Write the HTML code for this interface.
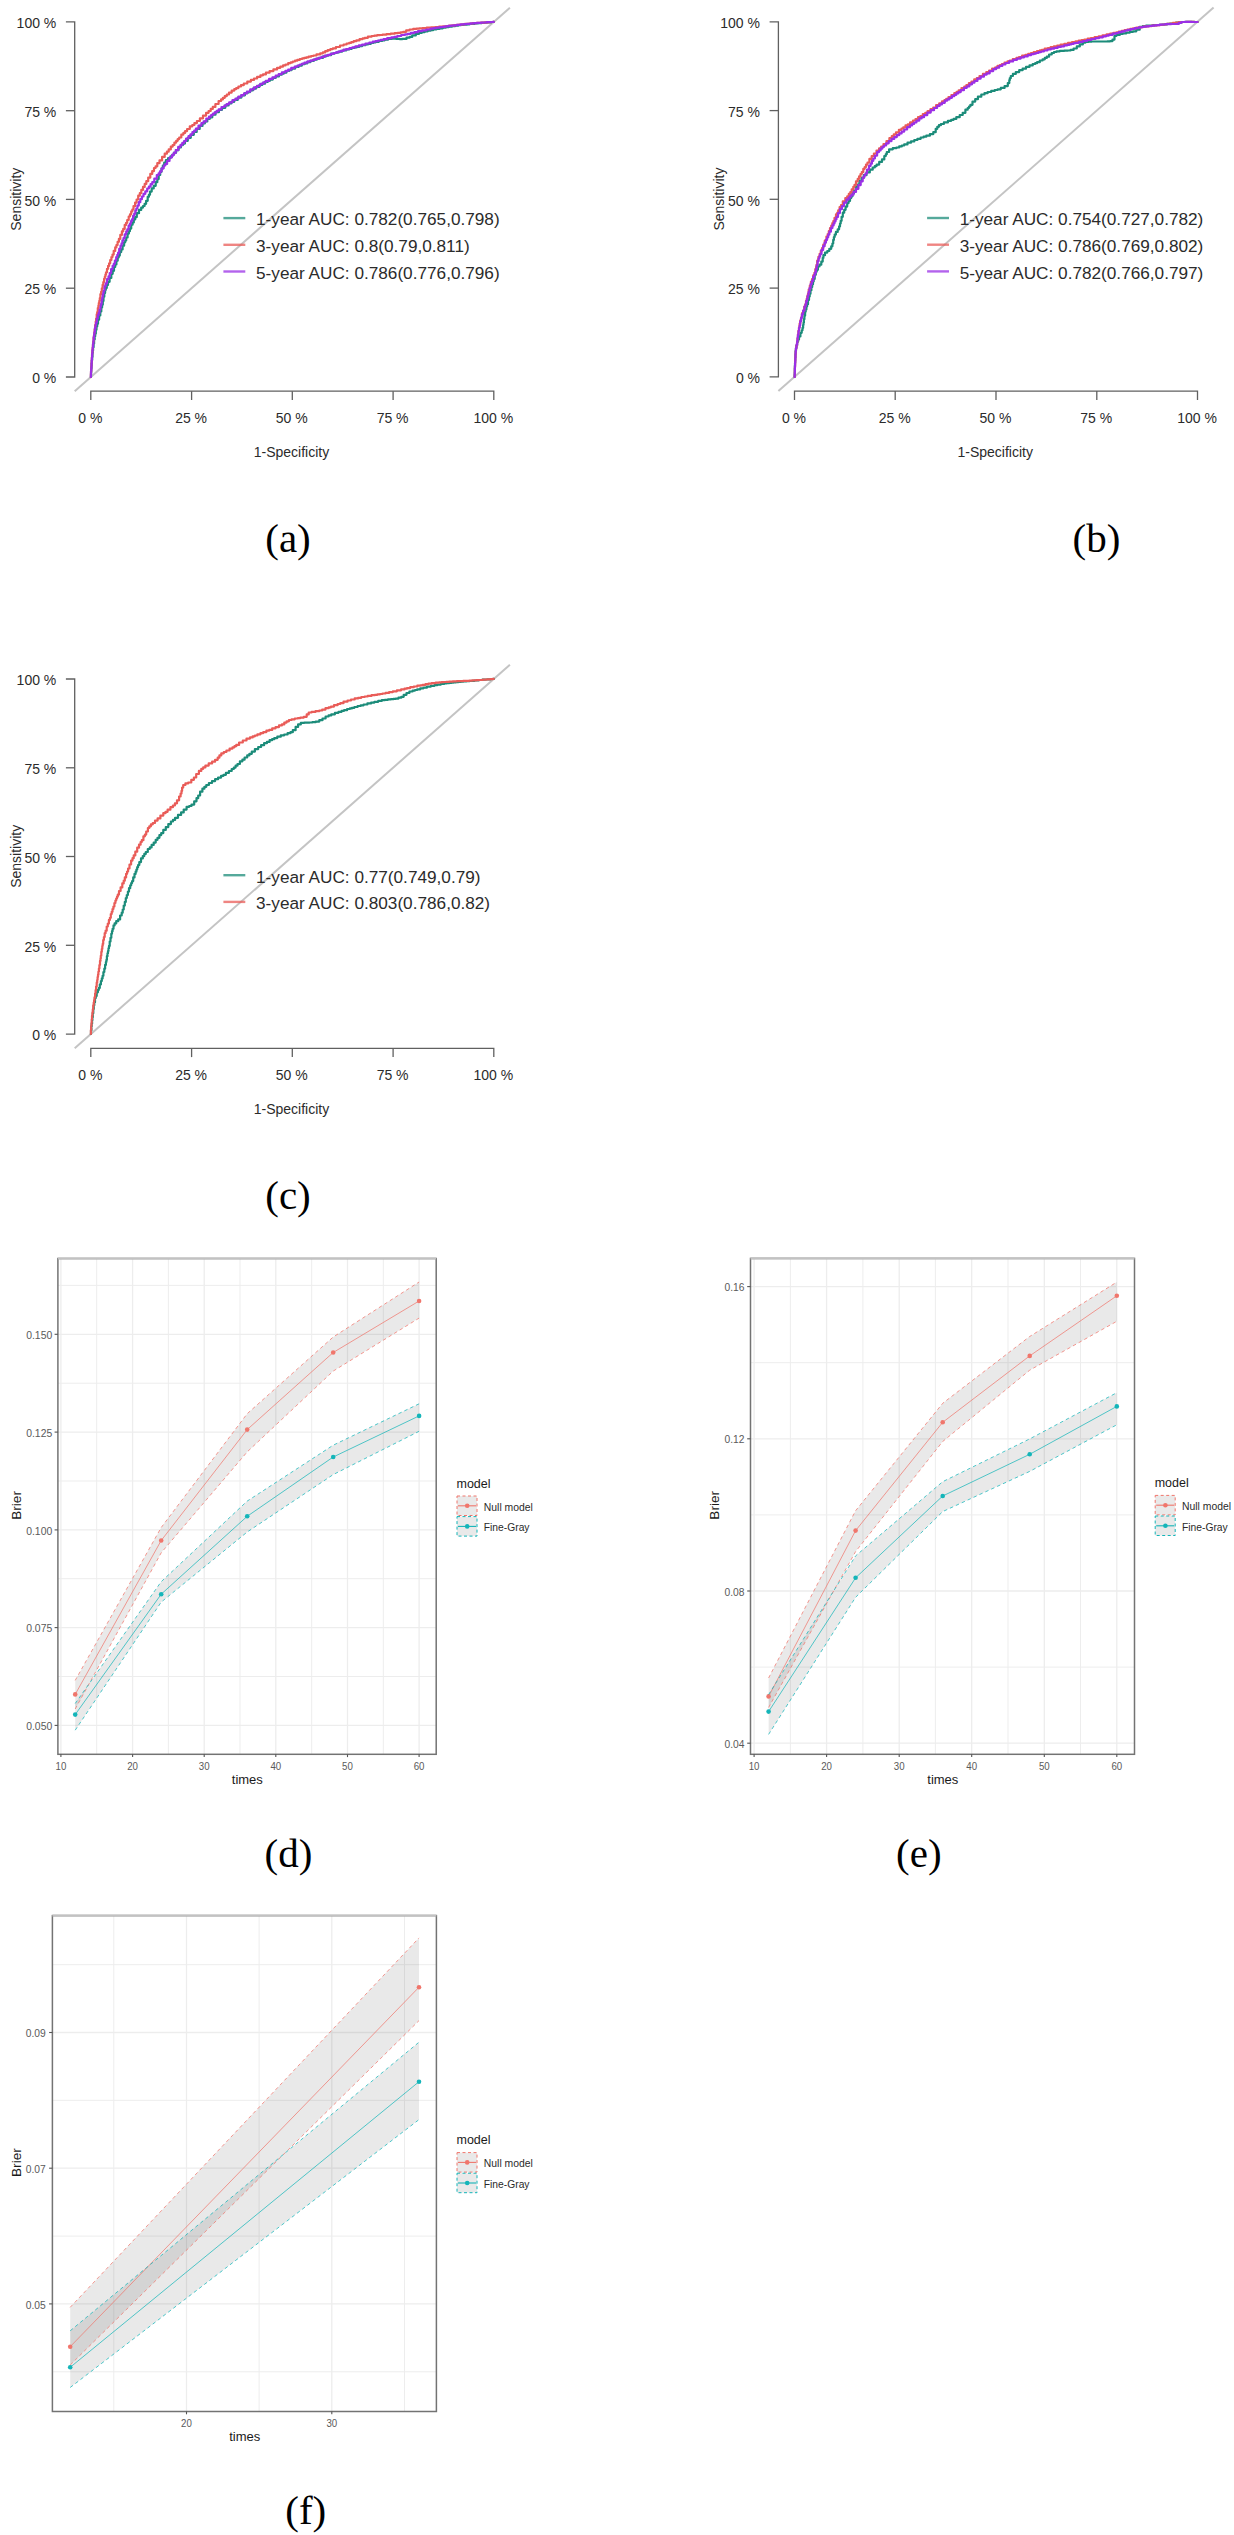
<!DOCTYPE html>
<html><head><meta charset="utf-8"><title>ROC and Brier figure</title>
<style>html,body{margin:0;padding:0;background:#fff;overflow:hidden;width:1234px;height:2535px;}svg{display:block;}</style>
</head><body>
<svg width="1234" height="2535" viewBox="0 0 1234 2535">
<rect width="1234" height="2535" fill="#fff"/>
<line x1="74.7" y1="391.2" x2="509.9" y2="7.7" stroke="#c4c4c4" stroke-width="2"/>
<path d="M90.8,377H91V372.9H91.1H91.2V369H91.4H91.5V366H91.6H91.7V363.3H91.8H91.9V360.1H92.1H92.2V357.1H92.3H92.5V353.1H92.7H92.8V350.4H93H93.1V347.2H93.3H93.6V343.8H93.8H94.1V339.6H94.4H94.7V336.3H94.9H95.2V333.7H95.4H95.8V329.8H96.1H96.5V326.4H96.9H97.2V323.8H97.5H98V319.7H98.5H99.1V315.4H99.7H100.3V311.5H100.8H101.3V307.4H101.8H102.1V304.7H102.4H102.8V300.9H103.1H103.5V296.7H103.9H104.3V293.1H104.7H105.1V290H105.5H105.8V287.9H106.2H106.8V285H107.3H108V281.8H108.7H109.6V277.9H110.5H111.3V273.8H112.2H112.7V270.8H113.3H114V266.9H114.7H115.2V264.4H115.6H116.4V260.7H117.1H117.7V257.5H118.3H118.7V255.6H119.1H119.8V252.1H120.6H121.2V249.4H121.8H122.6V245.7H123.4H124.1V242.3H124.9H125.2V240.5H125.6H126.2V237.5H126.8H127.6V233.6H128.4H128.9V231.2H129.4H129.9V228.6H130.4H131.2V224.7H132.1H132.6V222.5H133.1H133.8V219.4H134.6H135.2V217.1H135.7H136.8V213.2H137.9H139V209.9H140.1H141.2V207.6H142.3H143V206H143.8H144.6V203.8H145.4H146.1V200.8H146.9H147.7V196.8H148.5H148.9V194.7H149.3H150V191.6H150.7H151.7V188.4H152.7H153.7V185.8H154.7H155.7V182.2H156.6H157.3V179.1H157.9H158.7V175H159.6H160.2V171.8H160.9H161.5V168.6H162.2H162.8V165.7H163.4H164.2V162.6H165H165.9V160.2H166.8H168.1V158.2H169.5H170.5V156.3H171.5H172.4V154.5H173.2H174.1V152.7H174.9H176.1V150.1H177.3H178.6V147.5H179.8H180.9V145.2H182H182.8V143.6H183.6H184.9V140.8H186.3H187.8V137.8H189.3H190.8V134.8H192.3H193.8V131.9H195.2H196.7V128.9H198.2H199.7V125.9H201.3H202.5V123.5H203.7H204.8V121.5H205.9H207.3V119H208.7H209.7V117.3H210.7H212.3V114.7H213.9H215.5V112.2H217.2H218.9V109.8H220.6H222V107.8H223.5H225.3V105.4H227.1H228.6V103.5H230H231.3V101.8H232.7H234.2V99.9H235.7H237.7V97.6H239.6H241.4V95.3H243.2H244.9V93.2H246.6H247.6V92.1H248.5H250.1V90.3H251.6H253V88.7H254.4H255.9V87H257.5H259.3V85H261.1H262.2V83.7H263.4H265V81.9H266.7H267.7V80.8H268.8H269.9V79.6H271H272.8V77.8H274.6H275.8V76.5H277.1H278.9V74.7H280.7H281.7V73.7H282.7H283.7V72.6H284.8H286.5V71H288.2H289.1V70.1H290.1H291.6V68.6H293.2H295.2V66.9H297.1H298.6V65.6H300.2H301.9V64.2H303.6H304.6V63.4H305.5H307.2V62.1H308.9H310.5V60.9H312.2H313.8V59.7H315.4H316.8V58.7H318.2H319.6V57.8H321H323.1V56.3H325.2H326.2V55.7H327.2H328.1V55.1H329.1H331.2V53.7H333.3H334.5V53H335.7H336.8V52.3H337.9H339.1V51.6H340.3H342.2V50.5H344.1H346.2V49.3H348.3H349.3V48.8H350.3H351.8V48H353.3H354.4V47.4H355.5H356.7V46.8H358H359.3V46.1H360.5H362.2V45.2H364H365.4V44.5H366.8H368V43.9H369.1H370.7V43H372.3H373.3V42.5H374.3H375.4V41.9H376.5H378.7V40.9H380.8H382.1V40.3H383.3H384.7V39.7H386.1H388V39H389.9H391.9V38.7H394H396.1V38.9H398.2H399.5V39.1H400.7H402.5V38.9H404.3H406.5V37.7H408.6H409.6V36.9H410.6H412.2V35.4H413.9H415.8V33.8H417.7H419.1V32.9H420.4H421.7V32.2H422.9H424.6V31.3H426.3H427.8V30.7H429.4H430.6V30.1H431.7H433.3V29.5H434.9H436.3V28.9H437.8H439.5V28.3H441.2H442.8V27.7H444.4H445.8V27.2H447.1H448.6V26.7H450H452V26.1H454H455.3V25.7H456.6H458.3V25.2H460H461V25H462H463.9V24.6H465.9H467.3V24.3H468.7H469.7V24H470.8H472.1V23.8H473.5H474.8V23.5H476.1H478.2V23.1H480.4H481.9V22.9H483.3H484.6V22.6H486H487.4V22.4H488.9H491.1V22H493.2H493.5V21.9H493.8" fill="none" stroke="#1c8c7a" stroke-width="2.2" stroke-linejoin="round" stroke-linecap="round"/>
<path d="M90.8,377H90.9V374.2H91H91V371.8H91.1H91.2V368.2H91.3H91.3V366H91.4H91.5V362.7H91.6H91.7V359.8H91.7H91.8V357.6H91.9H92V354.4H92.1H92.2V352.3H92.3H92.4V349.2H92.5H92.7V347.1H92.8H92.9V344.8H93H93.1V341.8H93.3H93.5V337.8H93.8H93.9V335.5H94H94.2V332.9H94.4H94.6V329.4H94.8H95.1V325.1H95.4H95.7V321.6H95.9H96.1V318.7H96.4H96.7V314.3H97.1H97.2V312.2H97.4H97.8V308.1H98.1H98.4V305.5H98.6H98.8V303.1H99H99.3V300.9H99.5H99.8V298.2H100H100.4V294.2H100.9H101.1V291.8H101.4H101.8V288.4H102.2H102.6V284.9H103H103.3V282.1H103.7H104.1V278.8H104.5H104.8V276.8H105.1H105.4V274.7H105.7H106V272.3H106.4H107V268.8H107.6H108.1V265.9H108.6H109.1V263.3H109.6H110.2V260H110.8H111.4V257.1H112H112.5V254.6H113H113.7V250.9H114.5H115.2V247.4H115.9H116.4V245H116.9H117.6V241.8H118.2H118.9V238.8H119.5H120.3V234.9H121.2H121.9V231.4H122.7H123.2V228.9H123.8H124.7V224.9H125.6H126.1V222.8H126.6H127.2V220H127.8H128.7V216.5H129.5H130V214.3H130.5H131.2V211.4H131.9H132.3V209.5H132.8H133.5V206.2H134.3H135.1V202.6H135.9H136.6V199.5H137.3H138.2V195.7H139.1H139.8V193.2H140.4H141.3V189.9H142.2H143V186.9H143.8H144.7V183.9H145.5H146.3V181.2H147.1H148.2V177.6H149.2H150.3V173.9H151.4H152.2V171.1H153H154V168H155H155.6V166.3H156.2H157.3V163.2H158.4H159.5V160.4H160.7H162.1V156.9H163.5H164.7V153.7H166H166.9V151.7H167.7H168.7V149.4H169.6H170.8V146.6H172H172.7V145H173.3H174.4V142.6H175.4H176.2V140.8H177H177.7V139.1H178.5H179.2V137.5H179.9H181.3V134.6H182.6H183.4V132.9H184.2H185.1V131.1H186H187.1V129H188.2H189.8V126.3H191.4H192.3V125H193.1H194.4V123.1H195.6H196.9V121H198.3H199.9V118.3H201.5H203V115.6H204.6H206.1V112.8H207.6H208.6V111H209.6H210.7V108.9H211.8H212.8V106.9H213.9H215.4V104H217H218.6V101H220.2H221.1V99.4H222H222.9V97.8H223.8H224.8V96.1H225.8H226.8V94.5H227.8H229V92.6H230.3H231.7V90.6H233.2H234.3V89.1H235.4H236.2V88.1H237.1H238.4V86.5H239.7H241V85.1H242.3H243.8V83.5H245.3H247.3V81.6H249.2H250.9V79.9H252.6H254V78.5H255.5H257.1V76.9H258.7H260.4V75.3H262H263V74.4H264H265.9V72.7H267.8H269.6V71.1H271.4H273.4V69.4H275.3H277.1V67.8H278.9H280.3V66.6H281.7H283.1V65.4H284.4H285.5V64.5H286.5H288.2V63.1H289.8H290.8V62.3H291.8H292.8V61.5H293.8H295V60.7H296.2H297.3V59.9H298.5H299.8V59H301.2H302.2V58.4H303.2H304.2V57.9H305.2H306.3V57.3H307.5H308.6V56.7H309.6H311.1V56H312.5H313.5V55.5H314.5H316.5V54.4H318.5H320.2V53.3H321.8H322.9V52.4H324H325.2V51.2H326.4H327.7V50.1H329.1H330.4V49.1H331.8H332.9V48.4H334H335.9V47H337.9H340V45.5H342.1H343.6V44.5H345.1H346.6V43.5H348.1H349.2V42.8H350.2H351.3V42.1H352.4H353.7V41.2H355.1H356.4V40.3H357.6H359.6V39.1H361.5H362.7V38.4H363.8H364.8V37.8H365.8H367.9V36.7H370H371.6V36H373.2H374.4V35.6H375.6H377.2V35.2H378.9H379.9V35H381H382.6V34.7H384.3H386.5V34.1H388.7H390.8V33.7H392.8H394.7V33.2H396.5H397.8V32.9H399.2H400.6V32.4H402H403.2V31.8H404.4H406.2V30.3H408H409.6V29.5H411.2H413.2V28.9H415.1H416.5V28.7H418H419.2V28.4H420.5H422.5V28.1H424.5H426.7V27.7H429H431V27.4H433.1H435.1V27H437.1H439.1V26.7H441.1H443V26.3H444.9H446.2V26H447.5H449.1V25.7H450.8H452.2V25.3H453.6H454.7V25.1H455.7H456.7V24.9H457.8H459.1V24.6H460.4H461.8V24.3H463.1H464.9V23.9H466.8H469V23.5H471.2H472.7V23.2H474.3H476.4V22.9H478.6H480.8V22.6H483.1H485.2V22.3H487.4H488.9V22.1H490.3H491.6V22H492.9H493.3V21.9H493.8" fill="none" stroke="#e95c58" stroke-width="2.2" stroke-linejoin="round" stroke-linecap="round"/>
<path d="M90.8,377H90.9V374.7H90.9H91V371H91.2H91.3V367.4H91.4H91.5V363H91.6H91.7V360.3H91.8H91.9V357.7H92H92.1V353.9H92.3H92.4V350.3H92.6H92.7V347.5H92.8H93V343.8H93.2H93.4V340.8H93.5H93.7V336.9H94H94.1V334.6H94.3H94.4V332.1H94.6H94.9V327.9H95.3H95.5V325.1H95.8H96.1V322.5H96.3H96.8V318.6H97.3H97.8V315.2H98.3H98.7V312.9H99H99.5V309.6H99.9H100.4V306.1H100.8H101.1V303.7H101.3H101.7V300.2H102H102.2V297.9H102.4H102.7V295.1H103H103.2V292.9H103.4H103.7V290.5H104H104.6V286.2H105.2H105.7V283.4H106.2H107V279.2H107.9H108.5V276.4H109.1H109.7V273.1H110.4H111.1V269.2H111.9H112.6V265.8H113.3H113.8V263.7H114.2H114.9V260.5H115.5H116.2V257.1H116.9H117.3V254.8H117.8H118.1V252.7H118.5H119.2V248.8H120H120.5V245.7H121H121.5V243.4H121.9H122.4V240.4H123H123.5V238.1H123.9H124.7V234.4H125.5H126.2V231.4H126.8H127.3V229.4H127.8H128.6V225.7H129.5H129.9V223.7H130.4H130.9V221.2H131.5H131.9V219.3H132.3H133.1V215.8H133.8H134.2V213.7H134.7H135.3V210.6H135.9H136.3V208.5H136.8H137.4V205.6H138H138.8V202.2H139.6H140.3V199.2H141.1H141.9V196.5H142.7H143.5V193.8H144.4H145.3V191.3H146.2H147.2V188.5H148.2H148.9V186.7H149.6H150.6V184.2H151.5H152.3V182.1H153.1H154.3V178.7H155.5H156.8V175.1H158H158.6V173.4H159.2H159.9V171.4H160.6H161.6V168.3H162.7H163.7V165.5H164.7H165.3V163.9H165.9H167.1V160.9H168.2H169.5V157.5H170.9H171.9V155.1H172.8H173.7V152.9H174.6H175.7V150.2H176.8H178.2V146.9H179.6H180.5V144.9H181.4H182.3V142.9H183.2H184.1V141.1H184.9H186.1V138.5H187.4H188.5V136.2H189.6H190.5V134.3H191.4H192.4V132.2H193.5H194.2V130.7H195H195.9V128.7H196.9H198.5V125.6H200.1H201.4V123.2H202.6H203.6V121.4H204.6H206.3V118.5H207.9H209V116.7H210.1H211.1V115H212.1H213V113.7H213.8H214.7V112.3H215.7H216.7V110.8H217.7H218.7V109.4H219.8H221.5V107H223.3H224.4V105.6H225.5H226.6V104.2H227.7H229.2V102.3H230.7H232.5V100.1H234.4H235.5V98.7H236.7H238.4V96.7H240H241.3V95.1H242.5H244V93.4H245.4H246.9V91.6H248.4H250.3V89.4H252.2H253.9V87.4H255.6H257V85.8H258.4H260.2V83.8H262H263.2V82.3H264.5H265.8V80.9H267.1H269.1V78.9H271H272.5V77.3H274H275.7V75.5H277.5H278.7V74.2H280H281.9V72.3H283.8H285.4V70.8H287H288.2V69.6H289.3H291.3V67.8H293.3H294.7V66.6H296.2H297.5V65.5H298.8H300V64.5H301.3H302.3V63.6H303.4H304.5V62.7H305.7H307.5V61.4H309.2H310.3V60.7H311.4H312.7V59.8H313.9H315.4V58.8H316.9H318.5V57.8H320.1H321.5V56.8H322.9H324.8V55.6H326.7H327.9V54.8H329.2H330.6V53.9H332H333.4V53H334.9H336V52.3H337.1H338.3V51.6H339.5H340.7V50.9H341.8H343.6V49.7H345.4H346.6V49.1H347.7H349.5V48H351.2H352.4V47.3H353.7H355.4V46.3H357.2H358.9V45.3H360.7H362.1V44.6H363.4H365.5V43.5H367.6H369.4V42.5H371.2H372.8V41.7H374.4H375.5V41.2H376.5H378V40.5H379.4H380.7V39.9H382H383.6V39.2H385.1H387.2V38.2H389.3H391.4V37.3H393.4H394.4V36.8H395.5H397.3V36H399.1H401.2V35H403.3H405V34.3H406.6H407.7V33.8H408.8H410.8V32.9H412.9H414.4V32.2H415.9H418V31.2H420.2H422.2V30.4H424.3H426.3V29.5H428.3H430.4V28.7H432.5H433.6V28.2H434.6H436.6V27.6H438.6H439.9V27.1H441.3H442.5V26.8H443.6H445.1V26.4H446.5H448.3V25.9H450H451V25.7H452H453.5V25.3H455.1H457V24.8H459H460.6V24.4H462.2H463.9V24.1H465.5H466.9V23.8H468.2H470.5V23.4H472.7H474V23.1H475.3H477.1V22.9H479H480.8V22.6H482.6H483.6V22.5H484.6H486.8V22.2H489H490.3V22H491.6H492.7V21.9H493.8" fill="none" stroke="#9a2fe6" stroke-width="2.2" stroke-linejoin="round" stroke-linecap="round"/>
<g stroke="#606060" stroke-width="1.3" fill="none">
<path d="M65.9,21.9 H74.7 V377 H65.9"/>
<line x1="65.9" y1="288.2" x2="74.7" y2="288.2"/>
<line x1="65.9" y1="199.4" x2="74.7" y2="199.4"/>
<line x1="65.9" y1="110.7" x2="74.7" y2="110.7"/>
<path d="M90.8,400 V391.2 H493.8 V400"/>
<line x1="191.6" y1="391.2" x2="191.6" y2="400"/>
<line x1="292.3" y1="391.2" x2="292.3" y2="400"/>
<line x1="393.1" y1="391.2" x2="393.1" y2="400"/>
</g>
<g font-family="Liberation Sans, sans-serif" font-size="14" fill="#2b2b2b">
<text x="56.3" y="383.2" text-anchor="end">0 %</text>
<text x="56.3" y="294.4" text-anchor="end">25 %</text>
<text x="56.3" y="205.6" text-anchor="end">50 %</text>
<text x="56.3" y="116.9" text-anchor="end">75 %</text>
<text x="56.3" y="28.1" text-anchor="end">100 %</text>
<text x="90.3" y="423" text-anchor="middle">0 %</text>
<text x="191.1" y="423" text-anchor="middle">25 %</text>
<text x="291.8" y="423" text-anchor="middle">50 %</text>
<text x="392.6" y="423" text-anchor="middle">75 %</text>
<text x="493.3" y="423" text-anchor="middle">100 %</text>
<text x="291.5" y="457.3" text-anchor="middle">1-Specificity</text>
<text transform="translate(20.5,199.2) rotate(-90)" text-anchor="middle">Sensitivity</text>
</g>
<g font-family="Liberation Sans, sans-serif" font-size="17.2" fill="#2b2b2b">
<line x1="223.4" y1="218.1" x2="245.3" y2="218.1" stroke="#1c8c7a" stroke-opacity="0.75" stroke-width="2.4"/>
<text x="256" y="225.4">1-year AUC: 0.782(0.765,0.798)</text>
<line x1="223.4" y1="244.8" x2="245.3" y2="244.8" stroke="#e95c58" stroke-opacity="0.75" stroke-width="2.4"/>
<text x="256" y="252.1">3-year AUC: 0.8(0.79,0.811)</text>
<line x1="223.4" y1="271.5" x2="245.3" y2="271.5" stroke="#9a2fe6" stroke-opacity="0.75" stroke-width="2.4"/>
<text x="256" y="278.8">5-year AUC: 0.786(0.776,0.796)</text>
</g>
<line x1="778.4" y1="391.1" x2="1213.6" y2="7.6" stroke="#c4c4c4" stroke-width="2"/>
<path d="M794.6,376.9H794.6V374.8H794.7H794.7V372.4H794.8H794.8V368H794.9H794.9V365.3H795H795V363.1H795.1H795.1V360.9H795.2H795.2V357.6H795.3H795.4V354.6H795.5H795.6V350.8H795.8H796V348H796.1H796.4V345.6H796.6H797.1V341.8H797.7H798.1V339.6H798.4H799V336.4H799.6H800.4V332.8H801.2H801.7V330.3H802.1H802.5V327.9H802.8H803.1V325H803.4H803.5V322.7H803.7H803.9V319.2H804.2H804.4V315.7H804.7H805.1V311.7H805.5H805.7V309.6H806H806.4V306.4H806.8H807.1V304.2H807.4H808V300H808.5H809V296.6H809.4H809.7V293.8H810.1H810.5V290.2H811H811.4V287.1H811.8H812.2V284.3H812.6H813V281.5H813.4H813.7V279H814.1H814.7V274.8H815.3H815.8V271.7H816.3H816.7V269.8H817H817.9V266.5H818.7H819.5V264.7H820.3H821.3V261.6H822.3H822.7V257.9H823.1H823.4V255.2H823.7H825V252.6H826.4H827.3V251H828.2H829.3V248.8H830.3H831.2V246.3H832H832.4V243.5H832.8H833.2V239.9H833.6H833.9V237H834.3H834.7V234.6H835H835.9V231.9H836.8H837.7V229.3H838.7H839.1V226.4H839.6H840V223.5H840.4H840.7V220.8H841H841.6V216.8H842.1H842.8V212.7H843.5H844.2V209.8H844.8H845.6V206.6H846.3H847.2V203.1H848.1H848.6V200.9H849.2H850V198.1H850.7H851.2V196.3H851.7H852.5V193.3H853.4H854V190.8H854.7H855.8V187.1H856.8H857.5V184.5H858.3H859.4V181H860.4H861.5V177.9H862.6H863.8V175.2H865H866.5V172.4H868.1H869.8V169.7H871.4H872.7V167.5H874H874.8V166.1H875.6H876.6V164.6H877.6H879.2V161.9H880.8H882V159.4H883.3H884.3V156H885.3H885.8V154.2H886.2H886.8V152H887.4H889.1V149.3H890.8H892.8V148.2H894.9H896.4V147.5H897.8H899.2V146.4H900.6H901.8V145.5H902.9H904.2V144.4H905.5H907.5V142.7H909.5H911V141.4H912.5H914.3V140H916H917.4V138.8H918.9H920.7V137.5H922.5H923.6V136.7H924.8H926.3V135.7H927.8H929.9V134.1H931.9H933.3V132.2H934.7H935.7V128.8H936.6H937.3V126.8H937.9H938.9V125.2H939.8H940.9V124H942H943.9V122.4H945.8H947.9V120.8H949.9H951.2V119.8H952.5H953.6V118.9H954.6H956.3V117.2H958H959.7V115H961.4H962.7V112.8H963.9H965.4V109.7H966.9H967.7V108H968.4H969V106.5H969.7H970.4V104.8H971.1H972.5V101.6H974H975.2V99.2H976.4H977.9V96.7H979.4H981.3V94.5H983.1H984.5V93.2H985.9H987.6V92H989.3H991.2V90.9H993H994.7V90H996.4H997.6V89.3H998.8H1000.8V87.9H1002.8H1004.6V86.1H1006.5H1007.8V83.1H1009H1009.3V80.2H1009.5H1009.8V78.2H1010H1010.8V76H1011.5H1012.9V73.9H1014.3H1015.8V72.1H1017.4H1019.2V70.2H1021.1H1022.6V68.7H1024H1026V66.9H1028H1029.5V65.4H1031.1H1032.7V64H1034.2H1035.2V63.2H1036.1H1037.1V62.2H1038H1039.8V60.5H1041.6H1042.6V59.3H1043.6H1044.8V57.9H1046H1046.8V56.7H1047.6H1049.1V54.5H1050.6H1051.7V53H1052.9H1054V52H1055.1H1056.5V51.3H1057.9H1059.9V50.9H1062H1064.2V50.7H1066.4H1067.8V50.5H1069.3H1070.6V49.9H1071.9H1073.6V48.5H1075.2H1076.8V46.4H1078.3H1079.8V44.4H1081.3H1082.8V42.6H1084.2H1085.5V41.9H1086.7H1088.4V41.6H1090H1091.8V41.5H1093.5H1095.6V41.5H1097.6H1099.6V41.5H1101.6H1103.6V41.5H1105.7H1107.4V41.3H1109.1H1110.2V41.1H1111.2H1112.5V39.6H1113.8H1114.5V35.8H1115.2H1116.5V34.9H1117.7H1119.8V33.8H1121.9H1123V33.4H1124.2H1126.2V32.6H1128.3H1129.9V31.9H1131.5H1132.9V31.3H1134.4H1136.3V29.7H1138.3H1139.7V26.8H1141H1142.8V26.1H1144.6H1146.1V25.7H1147.6H1149.4V25.5H1151.1H1153V25.2H1154.8H1156.5V25H1158.1H1159.3V24.8H1160.4H1161.9V24.6H1163.4H1164.6V24.3H1165.8H1167.4V23.9H1168.9H1170V23.5H1171.1H1172.8V23H1174.6H1176V22.6H1177.4H1178.7V22.3H1180H1182.1V22H1184.2H1185.4V21.9H1186.7H1188V21.9H1189.3H1191V21.9H1192.6H1194.3V22H1195.9H1196.7V22H1197.6" fill="none" stroke="#1c8c7a" stroke-width="2.2" stroke-linejoin="round" stroke-linecap="round"/>
<path d="M794.6,376.9H794.7V374H794.7H794.8V370.6H794.9H794.9V366.8H795H795.1V363.7H795.1H795.2V360.4H795.3H795.3V357.6H795.4H795.5V354H795.6H795.7V350.9H795.8H795.9V348.9H795.9H796.3V345.8H796.7H797V342.5H797.2H797.4V338.5H797.6H797.9V334.5H798.1H798.4V330.8H798.7H799V327.3H799.3H799.6V323.6H800H800.3V320.3H800.7H801.1V317.3H801.4H802V313.2H802.6H803.1V310.5H803.6H804.2V306.7H804.9H805.2V304.4H805.5H806V300.8H806.4H806.7V298.9H806.9H807.2V296.3H807.6H807.9V293.9H808.2H808.7V289.5H809.3H809.8V285.7H810.3H810.9V281.8H811.5H812V279.2H812.5H813.2V275.3H813.9H814.4V272.8H814.8H815.3V269H815.8H816.1V266.9H816.3H816.5V264.9H816.7H817.2V260.7H817.7H818.4V256.8H819H819.6V253.8H820.2H820.8V250.8H821.4H822V248H822.6H823.3V244.5H824H824.8V240.5H825.6H826.4V236.5H827.2H827.7V234H828.3H828.8V231.2H829.4H830V228H830.7H831.2V225.7H831.7H832.3V223.2H832.8H833.3V221H833.8H834.5V217.9H835.2H836V214.3H836.8H837.3V212.5H837.7H838.2V210.3H838.8H839.6V207.1H840.4H841V205.1H841.5H842.8V201.3H844.1H845.3V198H846.6H847.2V196.4H847.9H848.8V193.9H849.7H850.3V192.2H850.9H851.7V189.4H852.6H853.3V186.8H854H854.5V184.9H855.1H856V181.3H857H857.7V178.9H858.3H859.1V176.4H859.8H860.5V174H861.2H861.8V172.1H862.3H863.3V168.8H864.2H864.7V167.1H865.3H866V164.6H866.8H867.5V162.5H868.1H869.4V158.9H870.6H871.7V156H872.8H873.9V153.5H875H876.5V150.5H877.9H879.1V148.3H880.3H881.1V146.7H882H883.5V144H885H886.5V141H888H889.4V138.1H890.7H891.8V136.1H892.8H893.8V134.3H894.9H896V132.3H897.2H898.9V129.8H900.6H901.5V128.5H902.4H903.3V127.3H904.2H905.5V125.4H906.9H907.8V124.3H908.6H910.1V122.3H911.6H913V120.5H914.4H915.5V119H916.6H918V117.2H919.5H920.4V116H921.3H922.8V114.1H924.3H925.3V112.8H926.2H927.6V111.1H929H930.5V109.1H932H933.2V107.6H934.3H936.1V105.2H937.9H939.2V103.4H940.5H942V101.4H943.5H944.4V100.2H945.3H946.2V98.9H947.2H948.5V97.1H949.9H951.4V95H952.9H954.3V93.2H955.6H956.6V91.8H957.6H958.7V90.3H959.9H961.5V88H963.2H964.3V86.5H965.4H966.4V85.1H967.4H968.9V83.1H970.4H971.4V81.7H972.5H974.2V79.4H975.8H976.8V78.1H977.9H979.5V76H981.2H982.9V73.9H984.6H986.3V72H987.9H989.1V70.7H990.2H992.1V68.5H994H995V67.5H996H997.5V65.9H999H999.9V65H1000.8H1001.9V64H1002.9H1004.5V62.5H1006.2H1007.5V61.4H1008.7H1009.8V60.6H1010.8H1012.8V59H1014.8H1016.4V57.9H1017.9H1019V57.1H1020H1022.1V55.7H1024.1H1025.4V54.8H1026.8H1028.2V53.9H1029.7H1031V53H1032.2H1033.7V52.1H1035.1H1037V51H1038.9H1039.9V50.4H1040.9H1041.9V49.8H1042.9H1044.7V48.7H1046.5H1047.9V48H1049.2H1050.6V47.2H1052H1053.9V46.3H1055.8H1057.2V45.6H1058.7H1060.6V44.7H1062.6H1064.3V43.9H1066H1068V42.9H1070.1H1072V42H1074H1075.5V41.4H1076.9H1078.7V40.6H1080.5H1081.6V40.2H1082.8H1084.4V39.5H1086.1H1087.7V38.7H1089.4H1090.9V38.1H1092.5H1094.6V37.1H1096.8H1098.7V36.3H1100.6H1102.5V35.4H1104.5H1106.6V34.4H1108.7H1110.2V33.7H1111.8H1113.6V32.8H1115.5H1116.5V32.3H1117.5H1118.8V31.6H1120.1H1121.7V30.9H1123.2H1124.6V30.2H1126H1127.3V29.6H1128.7H1130.2V28.9H1131.7H1132.9V28.4H1134.2H1136.2V27.7H1138.2H1140.1V27.1H1142H1143.2V26.7H1144.5H1145.9V26.3H1147.4H1148.5V26.1H1149.6H1151.7V25.6H1153.8H1154.9V25.4H1155.9H1157.4V25.1H1158.9H1160.2V24.8H1161.4H1162.9V24.5H1164.3H1166.4V23.9H1168.5H1169.7V23.5H1171H1172.9V22.9H1174.8H1175.8V22.6H1176.8H1178.7V22.2H1180.5H1182.5V22H1184.5H1186.6V21.9H1188.8H1190.5V21.9H1192.3H1194.4V22H1196.5H1197V22H1197.6" fill="none" stroke="#e95c58" stroke-width="2.2" stroke-linejoin="round" stroke-linecap="round"/>
<path d="M794.6,376.9H794.7V374.3H794.7H794.8V371.9H794.8H794.9V368H795H795V365.4H795.1H795.1V362.2H795.2H795.3V359.6H795.3H795.4V357.6H795.4H795.5V353.1H795.6H795.7V351H795.8H795.9V348.1H796H796.5V344.5H797H797.2V341.1H797.4H797.6V337.4H797.8H798V334.7H798.2H798.5V331H798.8H799V327.9H799.3H799.6V325.5H799.8H800.2V321.4H800.7H801V318.1H801.4H801.9V314.3H802.5H803.1V310.7H803.8H804.5V306.6H805.2H805.5V304.4H805.8H806.2V301.2H806.7H807V298.8H807.3H807.7V295.5H808.1H808.5V292.1H809H809.5V288.2H810H810.6V284.1H811.2H811.8V280.9H812.3H813.1V276.9H813.8H814.2V274.8H814.6H815V272.4H815.4H815.9V269.1H816.3H816.7V265.4H817.1H817.6V261.2H818.1H818.5V258.5H818.9H819.3V256.3H819.7H820.2V254H820.6H821.5V249.9H822.4H823.1V246.2H823.9H824.6V242.7H825.3H825.9V239.8H826.5H827.1V237.3H827.6H828.2V234.6H828.8H829.4V231.7H830H830.9V228.1H831.8H832.4V225.4H833.1H833.6V223.4H834H834.5V221.4H835H835.5V219.3H835.9H836.5V217H837H838V213.1H838.9H839.9V209.2H841H841.9V206.1H842.8H844V202.6H845.1H846.4V199.7H847.6H848.5V197.7H849.4H850.1V196.2H850.8H851.5V194.7H852.2H853.5V191.9H854.8H856V188.8H857.3H858.4V185.1H859.6H860.7V181.3H861.7H862.7V177.5H863.7H864.3V175.3H865H865.5V173.5H866H867V169.7H868.1H869V165.9H870H870.6V163.7H871.2H871.9V160.8H872.7H873.3V158.5H874H874.9V155.6H875.8H877.1V152.1H878.4H879V150.5H879.7H880.6V148.6H881.5H882.4V146.8H883.3H884V145.5H884.8H886.1V143.3H887.3H888.7V141.1H890.1H891.5V138.9H892.9H894.2V137.1H895.5H896.8V135.1H898.1H899.3V133.4H900.4H901.6V131.6H902.8H904.2V129.5H905.6H907.1V127.2H908.7H909.9V125.4H911.1H912.1V123.9H913.2H914.1V122.5H915.1H916.4V120.6H917.8H919.3V118.4H920.8H921.6V117.2H922.4H924V115.1H925.5H927.3V112.6H929H930.7V110.2H932.4H934V108H935.6H937.1V105.9H938.5H939.6V104.4H940.8H941.9V102.8H943.1H944.8V100.6H946.5H947.3V99.4H948.2H949.4V97.8H950.7H951.9V96.2H953.1H954.2V94.8H955.3H956.3V93.4H957.4H958.3V92.1H959.3H960.7V90.2H962.1H963.9V87.8H965.7H966.8V86.3H968H969.4V84.3H970.8H972V82.7H973.2H974.4V81H975.7H977.4V78.6H979.2H980.7V76.7H982.2H983.9V74.6H985.6H986.7V73.3H987.9H989.7V71.1H991.5H993.2V69.1H994.9H996.2V67.7H997.5H999.2V66H1000.8H1002.3V64.5H1003.7H1005.4V63H1007.2H1009.1V61.4H1011H1013.1V59.8H1015.2H1017V58.6H1018.8H1020.7V57.3H1022.7H1024.1V56.4H1025.6H1027.7V55.1H1029.7H1031.2V54.2H1032.7H1033.8V53.6H1034.9H1036V53H1037.1H1038.5V52.1H1039.9H1041.1V51.5H1042.2H1043.9V50.5H1045.6H1047.4V49.5H1049.2H1050.8V48.7H1052.4H1054.1V47.8H1055.8H1057.8V46.9H1059.7H1061V46.3H1062.2H1064.2V45.3H1066.2H1067.3V44.8H1068.4H1069.5V44.3H1070.6H1071.5V43.8H1072.5H1073.8V43.2H1075.1H1076.1V42.8H1077.1H1079V41.9H1080.8H1082.9V41H1085H1087.1V40H1089.1H1091.3V39H1093.5H1095.5V38.1H1097.5H1099.2V37.3H1101H1102.9V36.3H1104.8H1106.1V35.6H1107.4H1108.9V34.9H1110.3H1112.5V33.7H1114.6H1116V33H1117.3H1118.8V32.2H1120.2H1121.8V31.3H1123.4H1124.9V30.5H1126.4H1127.7V29.9H1129H1130.9V29H1132.8H1134.8V28.1H1136.7H1138.7V27.4H1140.7H1141.8V27H1142.8H1143.9V26.7H1145.1H1146.4V26.3H1147.7H1149.1V26H1150.6H1152.2V25.6H1153.8H1154.8V25.3H1155.9H1157V25.1H1158.1H1159.8V24.7H1161.6H1162.9V24.5H1164.1H1165.5V24.2H1166.9H1168.5V24.1H1170H1171.4V24H1172.8H1174.1V24H1175.5H1176.8V23.8H1178.1H1179V22.8H1179.8H1181.3V22H1182.8H1184.8V21.9H1186.8H1188.5V21.9H1190.2H1191.8V22H1193.4H1194.8V22H1196.2H1196.9V22H1197.6" fill="none" stroke="#9a2fe6" stroke-width="2.2" stroke-linejoin="round" stroke-linecap="round"/>
<g stroke="#606060" stroke-width="1.3" fill="none">
<path d="M769.6,21.8 H778.4 V376.9 H769.6"/>
<line x1="769.6" y1="288.1" x2="778.4" y2="288.1"/>
<line x1="769.6" y1="199.3" x2="778.4" y2="199.3"/>
<line x1="769.6" y1="110.6" x2="778.4" y2="110.6"/>
<path d="M794.5,399.9 V391.1 H1197.5 V399.9"/>
<line x1="895.2" y1="391.1" x2="895.2" y2="399.9"/>
<line x1="996" y1="391.1" x2="996" y2="399.9"/>
<line x1="1096.8" y1="391.1" x2="1096.8" y2="399.9"/>
</g>
<g font-family="Liberation Sans, sans-serif" font-size="14" fill="#2b2b2b">
<text x="760" y="383.1" text-anchor="end">0 %</text>
<text x="760" y="294.3" text-anchor="end">25 %</text>
<text x="760" y="205.5" text-anchor="end">50 %</text>
<text x="760" y="116.8" text-anchor="end">75 %</text>
<text x="760" y="28" text-anchor="end">100 %</text>
<text x="794" y="422.9" text-anchor="middle">0 %</text>
<text x="894.8" y="422.9" text-anchor="middle">25 %</text>
<text x="995.5" y="422.9" text-anchor="middle">50 %</text>
<text x="1096.2" y="422.9" text-anchor="middle">75 %</text>
<text x="1197" y="422.9" text-anchor="middle">100 %</text>
<text x="995.2" y="457.2" text-anchor="middle">1-Specificity</text>
<text transform="translate(724.2,199.1) rotate(-90)" text-anchor="middle">Sensitivity</text>
</g>
<g font-family="Liberation Sans, sans-serif" font-size="17.2" fill="#2b2b2b">
<line x1="927.1" y1="218" x2="949" y2="218" stroke="#1c8c7a" stroke-opacity="0.75" stroke-width="2.4"/>
<text x="959.7" y="225.3">1-year AUC: 0.754(0.727,0.782)</text>
<line x1="927.1" y1="244.7" x2="949" y2="244.7" stroke="#e95c58" stroke-opacity="0.75" stroke-width="2.4"/>
<text x="959.7" y="252">3-year AUC: 0.786(0.769,0.802)</text>
<line x1="927.1" y1="271.4" x2="949" y2="271.4" stroke="#9a2fe6" stroke-opacity="0.75" stroke-width="2.4"/>
<text x="959.7" y="278.7">5-year AUC: 0.782(0.766,0.797)</text>
</g>
<line x1="74.7" y1="1048.3" x2="509.9" y2="664.8" stroke="#c4c4c4" stroke-width="2"/>
<path d="M90.8,1034H91V1030.5H91.2H91.4V1026.6H91.6H91.7V1023.8H91.9H92.1V1020.2H92.2H92.4V1017.2H92.6H92.8V1013.3H93H93.3V1009.1H93.5H93.8V1005.3H94.1H94.3V1002.2H94.6H95V998.1H95.5H95.8V996H96.1H96.7V992.3H97.4H97.9V989.9H98.4H98.8V987.9H99.2H99.8V984.4H100.4H100.9V981.1H101.4H101.8V978.4H102.2H102.6V975.8H102.9H103.4V972H103.9H104.3V968.7H104.7H105.1V964.9H105.6H105.9V962H106.2H106.4V959.9H106.6H106.9V956.2H107.3H107.5V953.3H107.8H108V951H108.3H108.5V948.3H108.8H109V945.9H109.3H109.7V941.6H110.2H110.5V937.8H110.9H111.3V933.8H111.7H112V931.2H112.3H112.6V928.8H112.9H113.5V925.4H114.1H114.6V923.4H115.1H116.2V921.2H117.3H118.2V919.4H119.1H120.1V915.5H121.2H121.7V912.7H122.2H122.7V909.5H123.2H123.7V905.6H124.3H124.8V901.9H125.3H125.8V898H126.4H126.8V895H127.3H127.9V891.6H128.4H129V888.2H129.7H130.2V885.3H130.8H131.2V883.1H131.7H132.1V881.1H132.5H133.2V877.4H133.9H134.5V873.9H135.2H135.6V871.7H136H136.4V869.6H136.8H137.2V867.2H137.7H138.1V865H138.6H139.3V862.1H139.9H141V858.4H142H142.8V856.1H143.6H144.3V853.9H145.1H145.8V852H146.5H147.8V849H149H149.8V847.4H150.5H151.6V844.9H152.7H153.7V842.6H154.6H155.7V839.8H156.7H157.5V837.8H158.3H159.4V835.1H160.4H161.2V833.1H162H163.3V829.9H164.7H165.8V827.1H167H168.3V824.1H169.7H170.9V821.5H172.1H173V819.9H173.8H175.1V817.8H176.3H178V814.9H179.7H181.1V812.4H182.4H183.7V809.6H185.1H186.6V806.8H188.2H189.2V806H190.2H191.5V804.6H192.8H194.2V801.3H195.5H196.5V798.2H197.4H198.2V795.5H199H200.1V791.7H201.3H202.4V788.7H203.5H204.4V786.8H205.2H206.3V785H207.4H208.9V783H210.4H212V781.1H213.5H215.1V779.2H216.7H218.1V777.6H219.5H221.1V775.8H222.6H223.5V774.8H224.4H225.9V772.9H227.4H228.9V771H230.3H231.7V769H233H233.8V767.6H234.6H235.6V765.7H236.6H237.5V764H238.4H239.9V761.3H241.4H242.4V759.7H243.3H244.6V757.5H245.9H247.2V755.4H248.4H249.4V753.8H250.4H251.8V751.6H253.2H254.9V749.1H256.7H258.2V747H259.7H261.1V745.2H262.6H264.1V743.2H265.7H266.9V741.9H268.1H269.6V740.2H271.1H272.1V739.2H273.1H274.3V738.1H275.6H277.3V736.7H278.9H280.8V735.3H282.8H284.2V734.5H285.7H287.6V733.2H289.4H290.5V732.2H291.5H292.8V730.2H294.1H295.6V726.9H297H298.1V724.4H299.3H300.8V722.9H302.3H304.2V722.6H306.1H307.2V722.6H308.4H309.7V722.5H311H312.4V722.2H313.9H315.7V721.6H317.5H319.3V720.2H321.1H322.5V718.5H323.8H325.6V716.5H327.3H328.6V715.4H329.8H331.3V714.3H332.8H334.9V712.8H337H338.5V711.8H340.1H341.6V710.8H343.1H344.1V710.2H345.2H347.1V709H348.9H349.9V708.4H350.9H352V707.8H353H354.4V707H355.7H357.6V706H359.4H360.7V705.3H362H363.6V704.5H365.2H367.4V703.4H369.5H371.1V702.6H372.6H374.4V701.8H376.2H378.2V700.9H380.2H381.8V700.2H383.5H384.9V699.8H386.4H388V699.4H389.6H390.9V699.2H392.2H393.5V698.9H394.7H395.7V698.6H396.8H398.5V697.7H400.3H401.3V696.8H402.3H403.7V694.8H405.2H406.5V693H407.8H409.4V691.5H411.1H412.6V690.6H414H415V690H416H417.2V689.3H418.4H420.3V688.3H422.2H423.5V687.7H424.8H426.9V686.6H429.1H430.9V685.8H432.7H434.5V685.1H436.2H437.5V684.6H438.8H440.9V683.9H443H444.2V683.5H445.3H446.7V683.2H448.1H449.2V682.9H450.2H451.4V682.6H452.5H453.6V682.4H454.6H455.9V682.1H457.2H458.5V681.9H459.7H461V681.7H462.2H463.3V681.5H464.3H466.5V681.1H468.7H469.7V681H470.8H471.8V680.8H472.8H474.6V680.5H476.4H478.6V680H480.8H482.4V679.7H483.9H485.2V679.5H486.5H487.5V679.4H488.5H490.6V679H492.8H493.3V678.9H493.8" fill="none" stroke="#1c8c7a" stroke-width="2.2" stroke-linejoin="round" stroke-linecap="round"/>
<path d="M90.8,1034H90.9V1030H91.1H91.2V1025.8H91.4H91.5V1022.5H91.6H91.7V1019.3H91.9H92V1015.8H92.2H92.4V1012.4H92.6H92.8V1009.4H93H93.2V1005.4H93.5H93.7V1002.5H94H94.1V1000.2H94.3H94.5V997.3H94.8H95.1V993.6H95.3H95.6V990.2H95.9H96.1V986.6H96.4H96.7V982.7H97H97.2V980H97.4H97.6V977.1H97.8H98V974.7H98.2H98.4V971.8H98.6H98.9V968.5H99.1H99.4V965H99.7H100V960.9H100.3H100.5V958.4H100.6H100.8V955.8H101H101.3V951.9H101.6H101.8V949H102H102.3V946H102.5H102.7V943.9H102.9H103.2V940H103.6H103.9V937H104.2H104.7V933.2H105.2H105.6V930.7H106H106.7V926.5H107.3H107.8V923.6H108.3H108.9V919.9H109.5H109.9V917.8H110.2H110.8V914H111.4H111.7V911.8H112.1H112.5V909H113H113.4V906.5H113.8H114.4V903H115H115.4V900.5H115.9H116.2V898.6H116.6H117V896.7H117.4H117.8V894.6H118.2H119V891H119.8H120.6V887.4H121.4H122.3V883.4H123.1H123.7V880.7H124.2H124.8V877.4H125.4H126.1V873.8H126.7H127.1V871.5H127.5H128.1V868.5H128.7H129.5V864.5H130.3H131.1V860.6H132H132.5V858.2H133H133.7V855.4H134.3H135.3V851.7H136.2H137.2V847.7H138.2H139V844.7H139.8H140.6V842H141.3H141.8V840.2H142.3H143.4V836.3H144.5H144.9V834.6H145.4H146.2V831.5H147H147.9V828H148.8H149.3V826.3H149.8H150.9V824.3H151.9H152.8V823H153.7H155V820.6H156.4H157.6V818.4H158.9H160.4V815.6H162H163.3V813.2H164.7H165.5V811.8H166.3H167.6V809.7H168.9H170.4V807.2H172H172.9V805.5H173.9H174.9V803.3H176H177V800.3H178.1H179.1V796.5H180H180.6V793.6H181.2H181.5V790.9H181.8H182.1V787.6H182.5H183.2V785H183.9H185.4V783.4H186.9H188.2V782.5H189.6H191.3V779.8H193H193.9V777.5H194.8H196.2V774H197.5H198.9V770.9H200.2H201.3V768.8H202.3H203.2V767.4H204H205.4V765.6H206.8H208.7V763.4H210.5H212.1V761.7H213.6H215.1V759.8H216.6H217.7V757.7H218.8H219.4V755.4H219.9H221.3V753.3H222.6H223.8V752H225H226.4V750.5H227.7H229.6V748.6H231.5H232.5V747.3H233.6H234.5V746.2H235.4H236.3V744.9H237.2H239.1V742.5H241H242.8V740.5H244.5H246.5V738.6H248.5H250V737.4H251.4H252.7V736.3H254H254.9V735.5H255.9H257.4V734.3H259H260.5V733.1H262H263.3V732.1H264.5H266.4V730.6H268.3H269.3V729.9H270.3H272.2V728.3H274.2H275.6V727.1H277.1H279V725.4H280.9H281.9V724.4H283H284.3V722.6H285.7H286.6V721.3H287.5H288.9V720H290.3H291.6V719.3H292.9H294.8V718.5H296.8H297.9V718.1H299H300.4V717.6H301.8H303.8V716.8H305.8H306.7V714.4H307.6H308.7V712.5H309.8H311.6V711.9H313.3H315.5V711.2H317.6H319.3V710.5H320.9H322.2V709.6H323.6H325.5V708.2H327.5H328.7V707.3H330H331V706.6H332H334V705.2H336H337.6V704H339.2H340.3V703.2H341.4H343.5V701.7H345.6H347.5V700.5H349.4H351V699.5H352.5H354.7V698.4H356.9H358.1V697.8H359.4H361.3V697H363.2H364.7V696.5H366.2H367.7V695.9H369.3H371.5V695.2H373.7H374.9V694.8H376H377.4V694.4H378.7H379.9V694H381.1H382.5V693.5H384H385.6V692.9H387.2H389.1V692.1H391H392.9V691.3H394.9H396.9V690.3H399H401.1V689.4H403.1H404.5V688.7H405.8H407V688.1H408.2H410.2V687.2H412.2H413.8V686.5H415.4H417.3V685.7H419.3H420.3V685.3H421.3H422.5V684.9H423.7H425.5V684.1H427.4H428.5V683.7H429.6H431.6V683.2H433.6H435.7V682.7H437.8H439.1V682.4H440.4H441.5V682.2H442.7H443.9V682H445H446.3V681.9H447.7H449.1V681.7H450.5H452.7V681.4H454.9H456.8V681.2H458.7H460.3V681.1H461.8H463.2V680.9H464.5H466.2V680.8H467.9H469.2V680.6H470.6H472.5V680.4H474.4H476.3V680.1H478.3H479.5V680H480.6H482.8V679.6H485H486.7V679.4H488.4H490.1V679.1H491.9H492.8V678.9H493.8" fill="none" stroke="#e95c58" stroke-width="2.2" stroke-linejoin="round" stroke-linecap="round"/>
<g stroke="#606060" stroke-width="1.3" fill="none">
<path d="M65.9,679 H74.7 V1034.1 H65.9"/>
<line x1="65.9" y1="945.3" x2="74.7" y2="945.3"/>
<line x1="65.9" y1="856.5" x2="74.7" y2="856.5"/>
<line x1="65.9" y1="767.8" x2="74.7" y2="767.8"/>
<path d="M90.8,1057.1 V1048.3 H493.8 V1057.1"/>
<line x1="191.6" y1="1048.3" x2="191.6" y2="1057.1"/>
<line x1="292.3" y1="1048.3" x2="292.3" y2="1057.1"/>
<line x1="393.1" y1="1048.3" x2="393.1" y2="1057.1"/>
</g>
<g font-family="Liberation Sans, sans-serif" font-size="14" fill="#2b2b2b">
<text x="56.3" y="1040.3" text-anchor="end">0 %</text>
<text x="56.3" y="951.5" text-anchor="end">25 %</text>
<text x="56.3" y="862.8" text-anchor="end">50 %</text>
<text x="56.3" y="774" text-anchor="end">75 %</text>
<text x="56.3" y="685.2" text-anchor="end">100 %</text>
<text x="90.3" y="1080.1" text-anchor="middle">0 %</text>
<text x="191.1" y="1080.1" text-anchor="middle">25 %</text>
<text x="291.8" y="1080.1" text-anchor="middle">50 %</text>
<text x="392.6" y="1080.1" text-anchor="middle">75 %</text>
<text x="493.3" y="1080.1" text-anchor="middle">100 %</text>
<text x="291.5" y="1114.4" text-anchor="middle">1-Specificity</text>
<text transform="translate(20.5,856.3) rotate(-90)" text-anchor="middle">Sensitivity</text>
</g>
<g font-family="Liberation Sans, sans-serif" font-size="17.2" fill="#2b2b2b">
<line x1="223.4" y1="875.2" x2="245.3" y2="875.2" stroke="#1c8c7a" stroke-opacity="0.75" stroke-width="2.4"/>
<text x="256" y="882.5">1-year AUC: 0.77(0.749,0.79)</text>
<line x1="223.4" y1="901.9" x2="245.3" y2="901.9" stroke="#e95c58" stroke-opacity="0.75" stroke-width="2.4"/>
<text x="256" y="909.2">3-year AUC: 0.803(0.786,0.82)</text>
</g>
<g stroke="#ededed" fill="none">
<line x1="96.7" y1="1258.5" x2="96.7" y2="1754.3" stroke-width="1.0"/>
<line x1="168.4" y1="1258.5" x2="168.4" y2="1754.3" stroke-width="1.0"/>
<line x1="240" y1="1258.5" x2="240" y2="1754.3" stroke-width="1.0"/>
<line x1="311.7" y1="1258.5" x2="311.7" y2="1754.3" stroke-width="1.0"/>
<line x1="383.3" y1="1258.5" x2="383.3" y2="1754.3" stroke-width="1.0"/>
<line x1="60.9" y1="1258.5" x2="60.9" y2="1754.3" stroke-width="1.3"/>
<line x1="132.6" y1="1258.5" x2="132.6" y2="1754.3" stroke-width="1.3"/>
<line x1="204.2" y1="1258.5" x2="204.2" y2="1754.3" stroke-width="1.3"/>
<line x1="275.8" y1="1258.5" x2="275.8" y2="1754.3" stroke-width="1.3"/>
<line x1="347.5" y1="1258.5" x2="347.5" y2="1754.3" stroke-width="1.3"/>
<line x1="419.1" y1="1258.5" x2="419.1" y2="1754.3" stroke-width="1.3"/>
<line x1="57.9" y1="1676.5" x2="436.2" y2="1676.5" stroke-width="1.0"/>
<line x1="57.9" y1="1578.7" x2="436.2" y2="1578.7" stroke-width="1.0"/>
<line x1="57.9" y1="1481" x2="436.2" y2="1481" stroke-width="1.0"/>
<line x1="57.9" y1="1383.2" x2="436.2" y2="1383.2" stroke-width="1.0"/>
<line x1="57.9" y1="1285.4" x2="436.2" y2="1285.4" stroke-width="1.0"/>
<line x1="57.9" y1="1725.4" x2="436.2" y2="1725.4" stroke-width="1.3"/>
<line x1="57.9" y1="1627.6" x2="436.2" y2="1627.6" stroke-width="1.3"/>
<line x1="57.9" y1="1529.9" x2="436.2" y2="1529.9" stroke-width="1.3"/>
<line x1="57.9" y1="1432.1" x2="436.2" y2="1432.1" stroke-width="1.3"/>
<line x1="57.9" y1="1334.3" x2="436.2" y2="1334.3" stroke-width="1.3"/>
</g>
<path d="M75.2,1680.4 L161.2,1527.5 L247.2,1413.7 L333.2,1337 L419.1,1282 L419.1,1318.1 L333.2,1371.1 L247.2,1451.9 L161.2,1552.8 L75.2,1709Z" fill="rgba(0,0,0,0.087)"/>
<path d="M75.2,1703.5 L161.2,1581.7 L247.2,1501.1 L333.2,1445.2 L419.1,1403.8 L419.1,1431.3 L333.2,1474.6 L247.2,1532 L161.2,1602.1 L75.2,1730.2Z" fill="rgba(0,0,0,0.087)"/>
<path d="M75.2,1680.4 L161.2,1527.5 L247.2,1413.7 L333.2,1337 L419.1,1282" fill="none" stroke="#f0766c" stroke-opacity="0.75" stroke-width="1" stroke-dasharray="3.5,3"/>
<path d="M75.2,1709 L161.2,1552.8 L247.2,1451.9 L333.2,1371.1 L419.1,1318.1" fill="none" stroke="#f0766c" stroke-opacity="0.75" stroke-width="1" stroke-dasharray="3.5,3"/>
<path d="M75.2,1694.4 L161.2,1540.5 L247.2,1429.6 L333.2,1352.5 L419.1,1301" fill="none" stroke="#f0766c" stroke-opacity="0.72" stroke-width="1"/>
<circle cx="75.2" cy="1694.4" r="2.3" fill="#f0766c"/>
<circle cx="161.2" cy="1540.5" r="2.3" fill="#f0766c"/>
<circle cx="247.2" cy="1429.6" r="2.3" fill="#f0766c"/>
<circle cx="333.2" cy="1352.5" r="2.3" fill="#f0766c"/>
<circle cx="419.1" cy="1301" r="2.3" fill="#f0766c"/>
<path d="M75.2,1703.5 L161.2,1581.7 L247.2,1501.1 L333.2,1445.2 L419.1,1403.8" fill="none" stroke="#14b5b9" stroke-opacity="0.75" stroke-width="1" stroke-dasharray="3.5,3"/>
<path d="M75.2,1730.2 L161.2,1602.1 L247.2,1532 L333.2,1474.6 L419.1,1431.3" fill="none" stroke="#14b5b9" stroke-opacity="0.75" stroke-width="1" stroke-dasharray="3.5,3"/>
<path d="M75.2,1714.6 L161.2,1594.2 L247.2,1516.3 L333.2,1457 L419.1,1415.9" fill="none" stroke="#14b5b9" stroke-opacity="0.72" stroke-width="1"/>
<circle cx="75.2" cy="1714.6" r="2.3" fill="#14b5b9"/>
<circle cx="161.2" cy="1594.2" r="2.3" fill="#14b5b9"/>
<circle cx="247.2" cy="1516.3" r="2.3" fill="#14b5b9"/>
<circle cx="333.2" cy="1457" r="2.3" fill="#14b5b9"/>
<circle cx="419.1" cy="1415.9" r="2.3" fill="#14b5b9"/>
<rect x="57.9" y="1258.5" width="378.3" height="495.8" fill="none" stroke="#737373" stroke-width="1.5"/>
<line x1="57.9" y1="1258.5" x2="436.2" y2="1258.5" stroke="#c2c2c2" stroke-width="2"/>
<g stroke="#555" stroke-width="1.1">
<line x1="60.9" y1="1754.3" x2="60.9" y2="1757.1"/>
<line x1="132.6" y1="1754.3" x2="132.6" y2="1757.1"/>
<line x1="204.2" y1="1754.3" x2="204.2" y2="1757.1"/>
<line x1="275.8" y1="1754.3" x2="275.8" y2="1757.1"/>
<line x1="347.5" y1="1754.3" x2="347.5" y2="1757.1"/>
<line x1="419.1" y1="1754.3" x2="419.1" y2="1757.1"/>
<line x1="54.6" y1="1725.4" x2="57.9" y2="1725.4"/>
<line x1="54.6" y1="1627.6" x2="57.9" y2="1627.6"/>
<line x1="54.6" y1="1529.9" x2="57.9" y2="1529.9"/>
<line x1="54.6" y1="1432.1" x2="57.9" y2="1432.1"/>
<line x1="54.6" y1="1334.3" x2="57.9" y2="1334.3"/>
</g>
<g font-family="Liberation Sans, sans-serif" font-size="11" fill="#5a5a5a">
<text x="60.9" y="1769.6" text-anchor="middle" textLength="10.8" lengthAdjust="spacingAndGlyphs">10</text>
<text x="132.6" y="1769.6" text-anchor="middle" textLength="10.8" lengthAdjust="spacingAndGlyphs">20</text>
<text x="204.2" y="1769.6" text-anchor="middle" textLength="10.8" lengthAdjust="spacingAndGlyphs">30</text>
<text x="275.8" y="1769.6" text-anchor="middle" textLength="10.8" lengthAdjust="spacingAndGlyphs">40</text>
<text x="347.5" y="1769.6" text-anchor="middle" textLength="10.8" lengthAdjust="spacingAndGlyphs">50</text>
<text x="419.1" y="1769.6" text-anchor="middle" textLength="10.8" lengthAdjust="spacingAndGlyphs">60</text>
<text x="52.2" y="1730" font-size="11.6" text-anchor="end" textLength="26" lengthAdjust="spacingAndGlyphs">0.050</text>
<text x="52.2" y="1632.2" font-size="11.6" text-anchor="end" textLength="26" lengthAdjust="spacingAndGlyphs">0.075</text>
<text x="52.2" y="1534.5" font-size="11.6" text-anchor="end" textLength="26" lengthAdjust="spacingAndGlyphs">0.100</text>
<text x="52.2" y="1436.7" font-size="11.6" text-anchor="end" textLength="26" lengthAdjust="spacingAndGlyphs">0.125</text>
<text x="52.2" y="1338.9" font-size="11.6" text-anchor="end" textLength="26" lengthAdjust="spacingAndGlyphs">0.150</text>
</g>
<g font-family="Liberation Sans, sans-serif" font-size="13" fill="#1a1a1a">
<text x="247.3" y="1783.9" text-anchor="middle">times</text>
<text transform="translate(21,1505.4) rotate(-90)" text-anchor="middle" font-size="13.6">Brier</text>
</g>
<text x="456.5" y="1487.7" font-family="Liberation Sans, sans-serif" font-size="13" fill="#1a1a1a" textLength="34" lengthAdjust="spacingAndGlyphs">model</text>
<rect x="457" y="1496" width="20" height="19.5" fill="rgba(0,0,0,0.087)" stroke="#f0766c" stroke-width="1" stroke-dasharray="3,2.5"/>
<line x1="458" y1="1505.8" x2="476" y2="1505.8" stroke="#f0766c" stroke-width="1.1"/>
<circle cx="467.2" cy="1505.8" r="2.3" fill="#f0766c"/>
<text x="483.8" y="1510.8" font-family="Liberation Sans, sans-serif" font-size="11" fill="#2a2a2a" textLength="49.1" lengthAdjust="spacingAndGlyphs">Null model</text>
<rect x="457" y="1516.6" width="20" height="19.5" fill="rgba(0,0,0,0.087)" stroke="#14b5b9" stroke-width="1" stroke-dasharray="3,2.5"/>
<line x1="458" y1="1526.4" x2="476" y2="1526.4" stroke="#14b5b9" stroke-width="1.1"/>
<circle cx="467.2" cy="1526.4" r="2.3" fill="#14b5b9"/>
<text x="483.8" y="1531.4" font-family="Liberation Sans, sans-serif" font-size="11" fill="#2a2a2a" textLength="45.7" lengthAdjust="spacingAndGlyphs">Fine-Gray</text>
<g stroke="#ededed" fill="none">
<line x1="790.4" y1="1258.4" x2="790.4" y2="1754.3" stroke-width="1.0"/>
<line x1="862.9" y1="1258.4" x2="862.9" y2="1754.3" stroke-width="1.0"/>
<line x1="935.4" y1="1258.4" x2="935.4" y2="1754.3" stroke-width="1.0"/>
<line x1="1008" y1="1258.4" x2="1008" y2="1754.3" stroke-width="1.0"/>
<line x1="1080.5" y1="1258.4" x2="1080.5" y2="1754.3" stroke-width="1.0"/>
<line x1="754.1" y1="1258.4" x2="754.1" y2="1754.3" stroke-width="1.3"/>
<line x1="826.6" y1="1258.4" x2="826.6" y2="1754.3" stroke-width="1.3"/>
<line x1="899.2" y1="1258.4" x2="899.2" y2="1754.3" stroke-width="1.3"/>
<line x1="971.7" y1="1258.4" x2="971.7" y2="1754.3" stroke-width="1.3"/>
<line x1="1044.3" y1="1258.4" x2="1044.3" y2="1754.3" stroke-width="1.3"/>
<line x1="1116.8" y1="1258.4" x2="1116.8" y2="1754.3" stroke-width="1.3"/>
<line x1="750.5" y1="1667.1" x2="1134.5" y2="1667.1" stroke-width="1.0"/>
<line x1="750.5" y1="1514.9" x2="1134.5" y2="1514.9" stroke-width="1.0"/>
<line x1="750.5" y1="1362.7" x2="1134.5" y2="1362.7" stroke-width="1.0"/>
<line x1="750.5" y1="1743.2" x2="1134.5" y2="1743.2" stroke-width="1.3"/>
<line x1="750.5" y1="1591" x2="1134.5" y2="1591" stroke-width="1.3"/>
<line x1="750.5" y1="1438.8" x2="1134.5" y2="1438.8" stroke-width="1.3"/>
<line x1="750.5" y1="1286.6" x2="1134.5" y2="1286.6" stroke-width="1.3"/>
</g>
<path d="M768.6,1678 L855.6,1510.7 L942.7,1403.3 L1029.7,1336.5 L1116.8,1282.1 L1116.8,1321.3 L1029.7,1370.2 L942.7,1441.5 L855.6,1551.6 L768.6,1707.5Z" fill="rgba(0,0,0,0.087)"/>
<path d="M768.6,1694.6 L855.6,1555.9 L942.7,1481.7 L1029.7,1438.9 L1116.8,1392.7 L1116.8,1424.8 L1029.7,1471.4 L942.7,1511.6 L855.6,1597.3 L768.6,1734.4Z" fill="rgba(0,0,0,0.087)"/>
<path d="M768.6,1678 L855.6,1510.7 L942.7,1403.3 L1029.7,1336.5 L1116.8,1282.1" fill="none" stroke="#f0766c" stroke-opacity="0.75" stroke-width="1" stroke-dasharray="3.5,3"/>
<path d="M768.6,1707.5 L855.6,1551.6 L942.7,1441.5 L1029.7,1370.2 L1116.8,1321.3" fill="none" stroke="#f0766c" stroke-opacity="0.75" stroke-width="1" stroke-dasharray="3.5,3"/>
<path d="M768.6,1696.4 L855.6,1530.6 L942.7,1422.3 L1029.7,1355.9 L1116.8,1295.8" fill="none" stroke="#f0766c" stroke-opacity="0.72" stroke-width="1"/>
<circle cx="768.6" cy="1696.4" r="2.3" fill="#f0766c"/>
<circle cx="855.6" cy="1530.6" r="2.3" fill="#f0766c"/>
<circle cx="942.7" cy="1422.3" r="2.3" fill="#f0766c"/>
<circle cx="1029.7" cy="1355.9" r="2.3" fill="#f0766c"/>
<circle cx="1116.8" cy="1295.8" r="2.3" fill="#f0766c"/>
<path d="M768.6,1694.6 L855.6,1555.9 L942.7,1481.7 L1029.7,1438.9 L1116.8,1392.7" fill="none" stroke="#14b5b9" stroke-opacity="0.75" stroke-width="1" stroke-dasharray="3.5,3"/>
<path d="M768.6,1734.4 L855.6,1597.3 L942.7,1511.6 L1029.7,1471.4 L1116.8,1424.8" fill="none" stroke="#14b5b9" stroke-opacity="0.75" stroke-width="1" stroke-dasharray="3.5,3"/>
<path d="M768.6,1711.6 L855.6,1577.8 L942.7,1496 L1029.7,1454.3 L1116.8,1406.4" fill="none" stroke="#14b5b9" stroke-opacity="0.72" stroke-width="1"/>
<circle cx="768.6" cy="1711.6" r="2.3" fill="#14b5b9"/>
<circle cx="855.6" cy="1577.8" r="2.3" fill="#14b5b9"/>
<circle cx="942.7" cy="1496" r="2.3" fill="#14b5b9"/>
<circle cx="1029.7" cy="1454.3" r="2.3" fill="#14b5b9"/>
<circle cx="1116.8" cy="1406.4" r="2.3" fill="#14b5b9"/>
<rect x="750.5" y="1258.4" width="384" height="495.9" fill="none" stroke="#737373" stroke-width="1.5"/>
<line x1="750.5" y1="1258.4" x2="1134.5" y2="1258.4" stroke="#c2c2c2" stroke-width="2"/>
<g stroke="#555" stroke-width="1.1">
<line x1="754.1" y1="1754.3" x2="754.1" y2="1757.1"/>
<line x1="826.6" y1="1754.3" x2="826.6" y2="1757.1"/>
<line x1="899.2" y1="1754.3" x2="899.2" y2="1757.1"/>
<line x1="971.7" y1="1754.3" x2="971.7" y2="1757.1"/>
<line x1="1044.3" y1="1754.3" x2="1044.3" y2="1757.1"/>
<line x1="1116.8" y1="1754.3" x2="1116.8" y2="1757.1"/>
<line x1="747.2" y1="1743.2" x2="750.5" y2="1743.2"/>
<line x1="747.2" y1="1591" x2="750.5" y2="1591"/>
<line x1="747.2" y1="1438.8" x2="750.5" y2="1438.8"/>
<line x1="747.2" y1="1286.6" x2="750.5" y2="1286.6"/>
</g>
<g font-family="Liberation Sans, sans-serif" font-size="11" fill="#5a5a5a">
<text x="754.1" y="1769.6" text-anchor="middle" textLength="10.8" lengthAdjust="spacingAndGlyphs">10</text>
<text x="826.6" y="1769.6" text-anchor="middle" textLength="10.8" lengthAdjust="spacingAndGlyphs">20</text>
<text x="899.2" y="1769.6" text-anchor="middle" textLength="10.8" lengthAdjust="spacingAndGlyphs">30</text>
<text x="971.7" y="1769.6" text-anchor="middle" textLength="10.8" lengthAdjust="spacingAndGlyphs">40</text>
<text x="1044.3" y="1769.6" text-anchor="middle" textLength="10.8" lengthAdjust="spacingAndGlyphs">50</text>
<text x="1116.8" y="1769.6" text-anchor="middle" textLength="10.8" lengthAdjust="spacingAndGlyphs">60</text>
<text x="744.5" y="1747.8" font-size="11.6" text-anchor="end" textLength="20" lengthAdjust="spacingAndGlyphs">0.04</text>
<text x="744.5" y="1595.6" font-size="11.6" text-anchor="end" textLength="20" lengthAdjust="spacingAndGlyphs">0.08</text>
<text x="744.5" y="1443.4" font-size="11.6" text-anchor="end" textLength="20" lengthAdjust="spacingAndGlyphs">0.12</text>
<text x="744.5" y="1291.2" font-size="11.6" text-anchor="end" textLength="20" lengthAdjust="spacingAndGlyphs">0.16</text>
</g>
<g font-family="Liberation Sans, sans-serif" font-size="13" fill="#1a1a1a">
<text x="942.8" y="1783.9" text-anchor="middle">times</text>
<text transform="translate(719.2,1505.3) rotate(-90)" text-anchor="middle" font-size="13.6">Brier</text>
</g>
<text x="1154.7" y="1487.1" font-family="Liberation Sans, sans-serif" font-size="13" fill="#1a1a1a" textLength="34" lengthAdjust="spacingAndGlyphs">model</text>
<rect x="1155.2" y="1495.4" width="20" height="19.5" fill="rgba(0,0,0,0.087)" stroke="#f0766c" stroke-width="1" stroke-dasharray="3,2.5"/>
<line x1="1156.2" y1="1505.2" x2="1174.2" y2="1505.2" stroke="#f0766c" stroke-width="1.1"/>
<circle cx="1165.4" cy="1505.2" r="2.3" fill="#f0766c"/>
<text x="1182" y="1510.2" font-family="Liberation Sans, sans-serif" font-size="11" fill="#2a2a2a" textLength="49.1" lengthAdjust="spacingAndGlyphs">Null model</text>
<rect x="1155.2" y="1516" width="20" height="19.5" fill="rgba(0,0,0,0.087)" stroke="#14b5b9" stroke-width="1" stroke-dasharray="3,2.5"/>
<line x1="1156.2" y1="1525.8" x2="1174.2" y2="1525.8" stroke="#14b5b9" stroke-width="1.1"/>
<circle cx="1165.4" cy="1525.8" r="2.3" fill="#14b5b9"/>
<text x="1182" y="1530.8" font-family="Liberation Sans, sans-serif" font-size="11" fill="#2a2a2a" textLength="45.7" lengthAdjust="spacingAndGlyphs">Fine-Gray</text>
<g stroke="#ededed" fill="none">
<line x1="113.8" y1="1915.6" x2="113.8" y2="2411.5" stroke-width="1.0"/>
<line x1="259.1" y1="1915.6" x2="259.1" y2="2411.5" stroke-width="1.0"/>
<line x1="404.5" y1="1915.6" x2="404.5" y2="2411.5" stroke-width="1.0"/>
<line x1="186.5" y1="1915.6" x2="186.5" y2="2411.5" stroke-width="1.3"/>
<line x1="331.8" y1="1915.6" x2="331.8" y2="2411.5" stroke-width="1.3"/>
<line x1="52.4" y1="2371.8" x2="436.4" y2="2371.8" stroke-width="1.0"/>
<line x1="52.4" y1="2236.1" x2="436.4" y2="2236.1" stroke-width="1.0"/>
<line x1="52.4" y1="2100.3" x2="436.4" y2="2100.3" stroke-width="1.0"/>
<line x1="52.4" y1="1964.7" x2="436.4" y2="1964.7" stroke-width="1.0"/>
<line x1="52.4" y1="2303.9" x2="436.4" y2="2303.9" stroke-width="1.3"/>
<line x1="52.4" y1="2168.2" x2="436.4" y2="2168.2" stroke-width="1.3"/>
<line x1="52.4" y1="2032.5" x2="436.4" y2="2032.5" stroke-width="1.3"/>
</g>
<path d="M70.2,2307.3 L419,1937.9 L419,2020.6 L70.2,2365Z" fill="rgba(0,0,0,0.087)"/>
<path d="M70.2,2330.8 L419,2042.2 L419,2119.6 L70.2,2387.5Z" fill="rgba(0,0,0,0.087)"/>
<path d="M70.2,2307.3 L419,1937.9" fill="none" stroke="#f0766c" stroke-opacity="0.75" stroke-width="1" stroke-dasharray="3.5,3"/>
<path d="M70.2,2365 L419,2020.6" fill="none" stroke="#f0766c" stroke-opacity="0.75" stroke-width="1" stroke-dasharray="3.5,3"/>
<path d="M70.2,2346.7 L419,1987.2" fill="none" stroke="#f0766c" stroke-opacity="0.72" stroke-width="1"/>
<circle cx="70.2" cy="2346.7" r="2.3" fill="#f0766c"/>
<circle cx="419" cy="1987.2" r="2.3" fill="#f0766c"/>
<path d="M70.2,2330.8 L419,2042.2" fill="none" stroke="#14b5b9" stroke-opacity="0.75" stroke-width="1" stroke-dasharray="3.5,3"/>
<path d="M70.2,2387.5 L419,2119.6" fill="none" stroke="#14b5b9" stroke-opacity="0.75" stroke-width="1" stroke-dasharray="3.5,3"/>
<path d="M70.2,2367.3 L419,2081.7" fill="none" stroke="#14b5b9" stroke-opacity="0.72" stroke-width="1"/>
<circle cx="70.2" cy="2367.3" r="2.3" fill="#14b5b9"/>
<circle cx="419" cy="2081.7" r="2.3" fill="#14b5b9"/>
<rect x="52.4" y="1915.6" width="384" height="495.9" fill="none" stroke="#737373" stroke-width="1.5"/>
<line x1="52.4" y1="1915.6" x2="436.4" y2="1915.6" stroke="#c2c2c2" stroke-width="2"/>
<g stroke="#555" stroke-width="1.1">
<line x1="186.5" y1="2411.5" x2="186.5" y2="2414.3"/>
<line x1="331.8" y1="2411.5" x2="331.8" y2="2414.3"/>
<line x1="49.1" y1="2303.9" x2="52.4" y2="2303.9"/>
<line x1="49.1" y1="2168.2" x2="52.4" y2="2168.2"/>
<line x1="49.1" y1="2032.5" x2="52.4" y2="2032.5"/>
</g>
<g font-family="Liberation Sans, sans-serif" font-size="11" fill="#5a5a5a">
<text x="186.5" y="2426.8" text-anchor="middle" textLength="10.8" lengthAdjust="spacingAndGlyphs">20</text>
<text x="331.8" y="2426.8" text-anchor="middle" textLength="10.8" lengthAdjust="spacingAndGlyphs">30</text>
<text x="45.8" y="2308.5" font-size="11.6" text-anchor="end" textLength="20" lengthAdjust="spacingAndGlyphs">0.05</text>
<text x="45.8" y="2172.8" font-size="11.6" text-anchor="end" textLength="20" lengthAdjust="spacingAndGlyphs">0.07</text>
<text x="45.8" y="2037.1" font-size="11.6" text-anchor="end" textLength="20" lengthAdjust="spacingAndGlyphs">0.09</text>
</g>
<g font-family="Liberation Sans, sans-serif" font-size="13" fill="#1a1a1a">
<text x="244.7" y="2441.1" text-anchor="middle">times</text>
<text transform="translate(21,2162.6) rotate(-90)" text-anchor="middle" font-size="13.6">Brier</text>
</g>
<text x="456.5" y="2144.3" font-family="Liberation Sans, sans-serif" font-size="13" fill="#1a1a1a" textLength="34" lengthAdjust="spacingAndGlyphs">model</text>
<rect x="457" y="2152.6" width="20" height="19.5" fill="rgba(0,0,0,0.087)" stroke="#f0766c" stroke-width="1" stroke-dasharray="3,2.5"/>
<line x1="458" y1="2162.4" x2="476" y2="2162.4" stroke="#f0766c" stroke-width="1.1"/>
<circle cx="467.2" cy="2162.4" r="2.3" fill="#f0766c"/>
<text x="483.8" y="2167.4" font-family="Liberation Sans, sans-serif" font-size="11" fill="#2a2a2a" textLength="49.1" lengthAdjust="spacingAndGlyphs">Null model</text>
<rect x="457" y="2173.2" width="20" height="19.5" fill="rgba(0,0,0,0.087)" stroke="#14b5b9" stroke-width="1" stroke-dasharray="3,2.5"/>
<line x1="458" y1="2183" x2="476" y2="2183" stroke="#14b5b9" stroke-width="1.1"/>
<circle cx="467.2" cy="2183" r="2.3" fill="#14b5b9"/>
<text x="483.8" y="2188" font-family="Liberation Sans, sans-serif" font-size="11" fill="#2a2a2a" textLength="45.7" lengthAdjust="spacingAndGlyphs">Fine-Gray</text>
<g font-family="Liberation Serif, serif" font-size="41" fill="#000" text-anchor="middle">
<text x="288" y="552.1">(a)</text>
<text x="1096.4" y="552">(b)</text>
<text x="288" y="1209.2">(c)</text>
<text x="288.4" y="1866.9">(d)</text>
<text x="918.8" y="1866.9">(e)</text>
<text x="305.8" y="2524.2">(f)</text>
</g>
</svg>
</body></html>
